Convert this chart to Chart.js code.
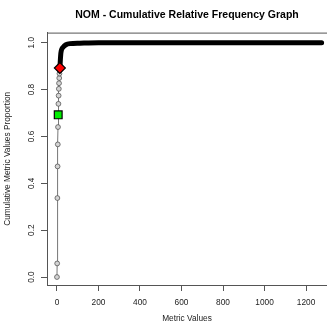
<!DOCTYPE html>
<html>
<head>
<meta charset="utf-8">
<script src="https://cdn.jsdelivr.net/npm/chart.js@4/dist/chart.umd.min.js"></script>
<style>
  html, body { margin: 0; padding: 0; background: #fff; }
  canvas { display: block; }
</style>
</head>
<body>
<canvas id="cdf" width="327" height="326"></canvas>
<script>
// Sparse low values (each distinct metric value is one circle)
const lowValues = [0, 1, 2, 3, 4, 5, 6, 7, 8, 9, 10, 11, 12, 13, 14];
const lowProportions = [0, 0.058, 0.337, 0.472, 0.566, 0.64, 0.692, 0.739, 0.774, 0.803, 0.827, 0.849, 0.868, 0.881, 0.892];

// Dense part of the curve (circles overlap into a thick black band)
const denseValues = [14, 19, 30, 43, 63, 110, 200, 400, 600, 800, 1000, 1275];
const denseProportions = [0.892, 0.957, 0.981, 0.991, 0.996, 0.998, 1, 1, 1, 1, 1, 1];

// Highlighted markers
const mark70 = { x: 6, y: 0.692 };
const mark90 = { x: 14, y: 0.892 };

const xTicks = [0, 200, 400, 600, 800, 1000, 1200];
const yTicks = [0, 0.2, 0.4, 0.6, 0.8, 1.0];

const tickFont = { family: 'Liberation Sans, Arial, sans-serif', size: 8.3 };

// draw the plot box like R's box()
const boxPlugin = {
    id: 'box',
    afterDatasetsDraw(chart) {
        const a = chart.chartArea;
        const ctx = chart.ctx;
        ctx.save();
        ctx.strokeStyle = '#555';
        ctx.lineWidth = 1;
        ctx.strokeRect(a.left + 0.5, a.top + 0.5, a.right - a.left + 10, a.bottom - a.top);
        ctx.restore();
    }
};

const ctx = document.getElementById('cdf').getContext('2d');
new Chart(ctx, {
    type: 'line',
    data: {
        datasets: [
            {
                label: '70%',
                data: [mark70],
                showLine: false,
                pointStyle: 'rect',
                pointRadius: 5.5,
                pointBackgroundColor: '#00ee00',
                pointBorderColor: '#000',
                pointBorderWidth: 1.2,
                order: 0
            },
            {
                label: '90%',
                data: [mark90],
                showLine: false,
                pointStyle: 'rectRot',
                pointRadius: 5.5,
                pointBackgroundColor: '#ff0000',
                pointBorderColor: '#000',
                pointBorderWidth: 1.2,
                order: 1
            },
            {
                label: 'dense',
                data: denseValues.map((v, i) => ({ x: v, y: denseProportions[i] })),
                borderColor: '#000',
                borderWidth: 5,
                cubicInterpolationMode: 'monotone',
                pointRadius: 0,
                borderCapStyle: 'round',
                order: 2
            },
            {
                label: 'low',
                data: lowValues.map((v, i) => ({ x: v, y: lowProportions[i] })),
                borderColor: '#777',
                borderWidth: 1,
                pointRadius: 2.4,
                pointBackgroundColor: '#d4d4d4',
                pointBorderColor: '#555',
                pointBorderWidth: 0.8,
                order: 3
            }
        ]
    },
    options: {
        responsive: false,
        animation: false,
        devicePixelRatio: 1,
        layout: { padding: 0, autoPadding: false },
        plugins: {
            legend: { display: false },
            tooltip: { enabled: false },
            title: {
                display: true,
                fullSize: false,
                text: 'NOM - Cumulative Relative Frequency Graph',
                color: '#000',
                font: { family: 'Liberation Sans, Arial, sans-serif', size: 10.5, weight: 'bold' },
                padding: { top: 9, bottom: 11 }
            }
        },
        scales: {
            x: {
                type: 'linear',
                min: -48,
                max: 1301,
                afterBuildTicks: s => { s.ticks = xTicks.map(v => ({ value: v })); },
                afterFit: s => { s.height = 41; },
                ticks: { font: tickFont, color: '#222', padding: 7, maxRotation: 0, callback: v => String(v) },
                grid: { drawOnChartArea: false, drawTicks: true, tickLength: 6, color: '#555' },
                border: { display: true, color: '#555' },
                title: {
                    display: true,
                    text: 'Metric Values',
                    color: '#222',
                    font: tickFont,
                    padding: { top: 0, bottom: 2 }
                }
            },
            y: {
                type: 'linear',
                min: -0.034,
                max: 1.043,
                afterBuildTicks: s => { s.ticks = yTicks.map(v => ({ value: v })); },
                afterFit: s => { s.width = 47; },
                ticks: {
                    font: tickFont,
                    color: '#222',
                    minRotation: 90,
                    maxRotation: 90,
                    crossAlign: 'center',
                    padding: 4,
                    callback: v => v.toFixed(1)
                },
                grid: { drawOnChartArea: false, drawTicks: true, tickLength: 6, color: '#555' },
                border: { display: true, color: '#555' },
                title: {
                    display: true,
                    text: 'Cumulative Metric Values Proportion',
                    color: '#222',
                    font: tickFont,
                    padding: { top: 3, bottom: 0 }
                }
            }
        }
    },
    plugins: [boxPlugin]
});
</script>
</body>
</html>
